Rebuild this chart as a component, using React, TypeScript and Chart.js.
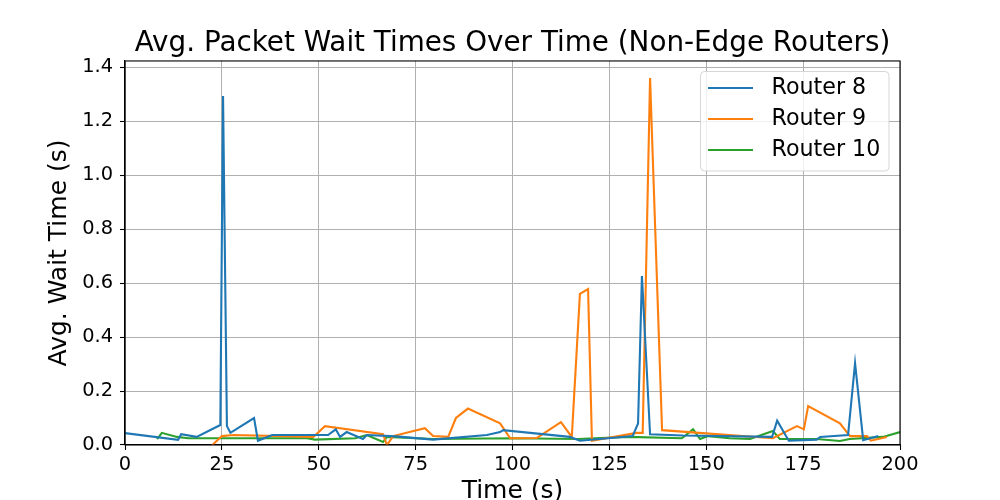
import React, { useEffect, useRef } from "react";
import { Chart, registerables } from "chart.js";

Chart.register(...registerables);

const chartTitle = "Avg. Packet Wait Times Over Time (Non-Edge Routers)";
const xTitle = "Time (s)";
const yTitle = "Avg. Wait Time (s)";
const seriesLabels = ["Router 8", "Router 9", "Router 10"];
const seriesColors = ["#1f77b4", "#ff7f0e", "#2ca02c"];

const router8Times = [0, 13.7, 14.5, 18.5, 24.6, 25.3, 26.3, 27.2, 33.3, 34.3, 38, 48.5, 52.4, 54.4, 55.5, 57.2, 61.4, 62.4, 70, 79.5, 93.4, 96.8, 97.6, 114.8, 117.4, 131, 132.4, 133.4, 135.5, 144, 167, 168.3, 171.3, 178.5, 179.4, 186.6, 188.4, 190.5, 194.4];
const router8Waits = [0.044, 0.019, 0.04, 0.03, 0.074, 1.293, 0.07, 0.045, 0.1, 0.016, 0.037, 0.037, 0.037, 0.058, 0.03, 0.048, 0.022, 0.037, 0.032, 0.02, 0.037, 0.048, 0.055, 0.03, 0.016, 0.033, 0.08, 0.626, 0.04, 0.035, 0.03, 0.09, 0.016, 0.02, 0.03, 0.037, 0.303, 0.018, 0.033];

const router9Times = [21.8, 25, 27.9, 48.6, 51.6, 66.6, 67.6, 69.2, 77.4, 79.5, 83.4, 85.4, 88.5, 96.8, 99.4, 106.3, 112.5, 115.3, 117.4, 119.5, 120.5, 132, 133.6, 135.5, 138.6, 167.2, 173.4, 175.2, 176.3, 184.5, 187.1, 191.5, 192.5, 196.6];
const router9Waits = [-0.01, 0.033, 0.037, 0.03, 0.07, 0.04, 0.0, 0.033, 0.062, 0.033, 0.03, 0.1, 0.135, 0.08, 0.025, 0.026, 0.085, 0.03, 0.56, 0.578, 0.016, 0.045, 0.045, 1.36, 0.055, 0.025, 0.07, 0.058, 0.144, 0.08, 0.033, 0.033, 0.016, 0.03];

const router10Times = [8.3, 9.5, 13.4, 16.3, 47, 49, 59.4, 62.4, 66.6, 67.6, 79.5, 100, 117, 130, 143.7, 146.6, 148.4, 150.5, 156, 161.3, 167.2, 169, 178.5, 184.5, 187, 195.6, 200];
const router10Waits = [0.022, 0.045, 0.03, 0.025, 0.025, 0.02, 0.025, 0.037, 0.011, 0.03, 0.022, 0.025, 0.022, 0.03, 0.025, 0.058, 0.022, 0.033, 0.025, 0.022, 0.052, 0.022, 0.022, 0.015, 0.022, 0.03, 0.048];

const xMin = 0;
const xMax = 200;
const xStep = 25;
const yMin = 0;
const yMax = 1.423;
const yStep = 0.2;

const FONT = "'DejaVu Sans', sans-serif";

function toPoints(xs: number[], ys: number[]) {
  return xs.map((x, i) => ({ x, y: ys[i] }));
}

const framePlugin = {
  id: "frameAndLegend",
  afterDatasetsDraw(chart: any) {
    const { ctx, chartArea } = chart;
    ctx.save();
    ctx.strokeStyle = "#000";
    ctx.lineWidth = 1.1;
    ctx.strokeRect(chartArea.left, chartArea.top, chartArea.right - chartArea.left, chartArea.bottom - chartArea.top);

    // legend (matplotlib style, upper right inside the axes)
    const bx = 700.5, by = 71.5, bw = 188.5, bh = 99.5, r = 4;
    ctx.beginPath();
    ctx.moveTo(bx + r, by);
    ctx.lineTo(bx + bw - r, by);
    ctx.arcTo(bx + bw, by, bx + bw, by + r, r);
    ctx.lineTo(bx + bw, by + bh - r);
    ctx.arcTo(bx + bw, by + bh, bx + bw - r, by + bh, r);
    ctx.lineTo(bx + r, by + bh);
    ctx.arcTo(bx, by + bh, bx, by + bh - r, r);
    ctx.lineTo(bx, by + r);
    ctx.arcTo(bx, by, bx + r, by, r);
    ctx.closePath();
    ctx.fillStyle = "rgba(255,255,255,0.8)";
    ctx.fill();
    ctx.strokeStyle = "rgba(204,204,204,0.8)";
    ctx.lineWidth = 1;
    ctx.stroke();

    const rows = [88, 119, 150];
    chart.data.datasets.forEach((ds: any, i: number) => {
      const y = rows[i];
      ctx.beginPath();
      ctx.strokeStyle = ds.borderColor;
      ctx.lineWidth = 2.1;
      ctx.moveTo(708, y);
      ctx.lineTo(753, y);
      ctx.stroke();
      ctx.fillStyle = "#000";
      ctx.font = `22.2px ${FONT}`;
      ctx.textAlign = "left";
      ctx.textBaseline = "middle";
      ctx.fillText(ds.label, 771.5, y + 0.5);
    });
    ctx.restore();
  },
};

export default function App() {
  const canvasRef = useRef<HTMLCanvasElement | null>(null);

  useEffect(() => {
    if (!canvasRef.current) return;
    const datasets = [
      toPoints(router8Times, router8Waits),
      toPoints(router9Times, router9Waits),
      toPoints(router10Times, router10Waits),
    ].map((data, i) => ({
      label: seriesLabels[i],
      data,
      showLine: true,
      borderColor: seriesColors[i],
      backgroundColor: seriesColors[i],
      borderWidth: 2.1,
      pointRadius: 0,
      pointHoverRadius: 0,
      tension: 0,
      clip: 0,
    }));

    const chart = new Chart(canvasRef.current, {
      type: "scatter",
      data: { datasets },
      options: {
        responsive: false,
        animation: false,
        events: [],
        layout: { padding: { left: 0, right: 100, top: 0, bottom: 0 } },
        plugins: {
          legend: { display: false },
          tooltip: { enabled: false },
          title: {
            display: true,
            text: chartTitle,
            fullSize: false,
            color: "#000",
            font: { family: FONT, size: 27.8, weight: "normal", lineHeight: 1.2 },
            padding: { top: 26.8, bottom: 0.8 },
          },
        },
        scales: {
          x: {
            type: "linear",
            min: xMin,
            max: xMax,
            afterFit: (scale: any) => {
              scale.height = 55;
            },
            ticks: {
              stepSize: xStep,
              color: "#000",
              font: { family: FONT, size: 19.4 },
              padding: 3.5,
              maxRotation: 0,
              callback: (v: any) => String(v),
            },
            grid: {
              color: "#b0b0b0",
              lineWidth: 1,
              tickColor: "#000",
              tickLength: 5,
              tickWidth: 1.1,
            },
            border: { display: true, color: "#000", width: 1.1 },
            title: {
              display: true,
              text: xTitle,
              color: "#000",
              font: { family: FONT, size: 25, lineHeight: 0.6 },
              padding: { top: 0, bottom: 0.6 },
            },
          },
          y: {
            type: "linear",
            min: yMin,
            max: yMax,
            afterFit: (scale: any) => {
              scale.width = 125;
            },
            ticks: {
              stepSize: yStep,
              includeBounds: false,
              color: "#000",
              font: { family: FONT, size: 19.4 },
              padding: 7,
              callback: (v: any) => Number(v).toFixed(1),
            },
            grid: {
              color: "#b0b0b0",
              lineWidth: 1,
              tickColor: "#000",
              tickLength: 5,
              tickWidth: 1.1,
            },
            border: { display: true, color: "#000", width: 1.1 },
            title: {
              display: true,
              text: yTitle,
              color: "#000",
              font: { family: FONT, size: 25, lineHeight: 1.2 },
              padding: { top: 44.6, bottom: 0 },
            },
          },
        },
      },
      plugins: [framePlugin],
    } as any);

    return () => chart.destroy();
  }, []);

  return (
    <div style={{ position: "absolute", left: 0, top: 0, width: 1000, height: 500, background: "#fff" }}>
      <canvas ref={canvasRef} width={1000} height={500} style={{ display: "block" }} />
    </div>
  );
}
